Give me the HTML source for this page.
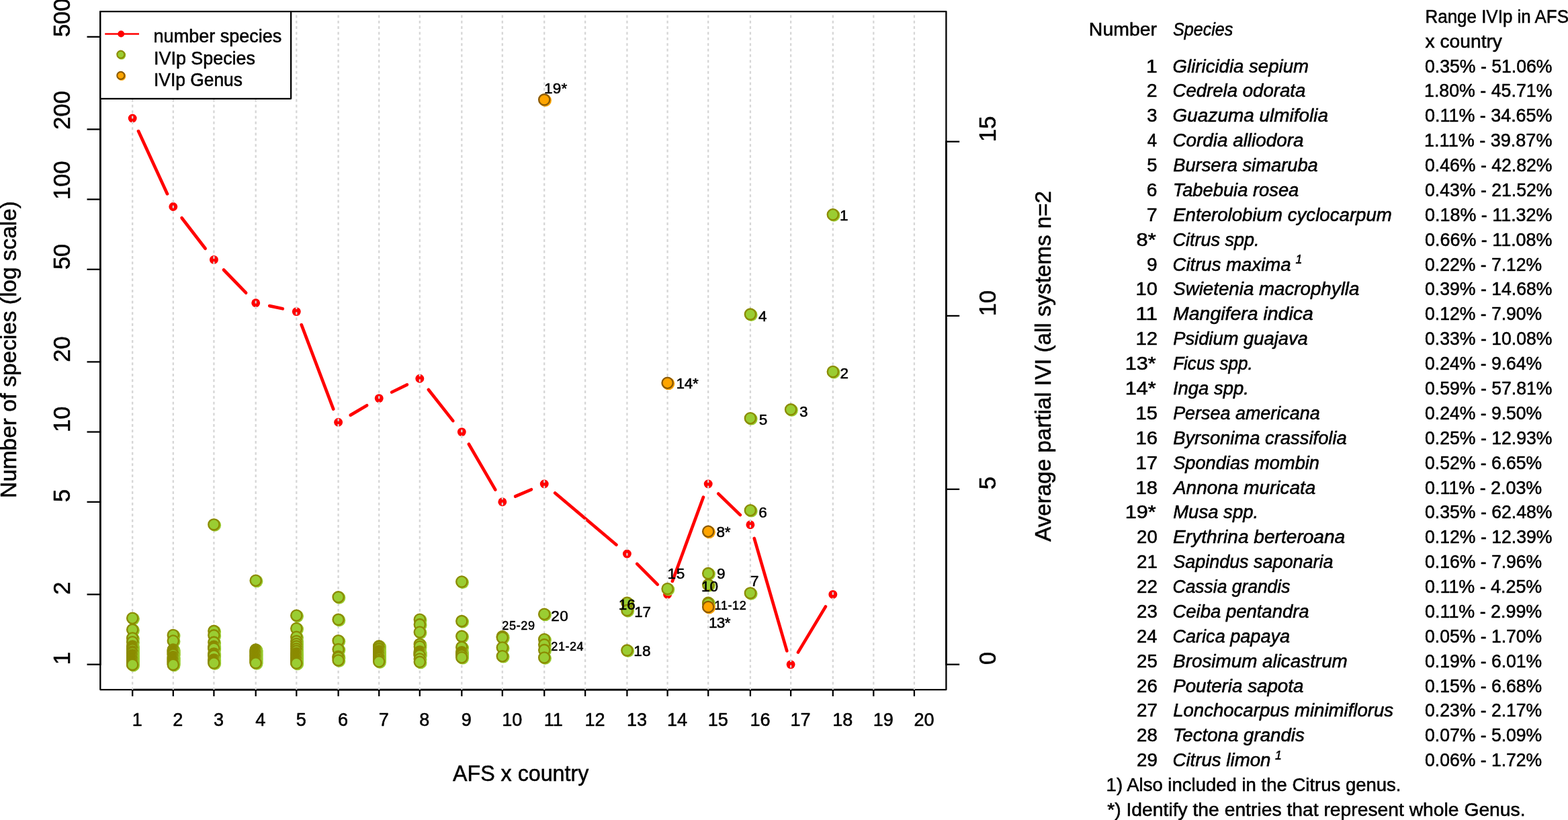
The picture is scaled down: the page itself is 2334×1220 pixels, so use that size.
<!DOCTYPE html>
<html lang="en"><head><meta charset="utf-8"><title>Species IVIp by AFS x country</title>
<style>
html,body{margin:0;padding:0;background:#fff;}
body{width:2334px;height:1220px;overflow:hidden;}
svg{display:block;}
svg text{stroke:#000;stroke-width:0.55px;paint-order:stroke fill;}
</style></head><body>
<svg width="2334" height="1220" viewBox="0 0 2334 1220" font-family="'Liberation Sans', sans-serif" fill="#000" stroke-linejoin="round">
<rect x="0" y="0" width="2334" height="1220" fill="#fff"/>
<g stroke="#000" stroke-width="2.3" fill="none" stroke-linecap="butt">
<rect x="149.3" y="17.1" width="1259.1000000000001" height="1008.9999999999999"/>
</g>
<g stroke="#000" stroke-width="2.6" fill="none" stroke-linecap="butt">
<line x1="196.1" y1="1026.1" x2="1362.0" y2="1026.1"/>
<line x1="149.3" y1="989.7" x2="149.3" y2="53.7"/>
<line x1="1408.4" y1="989.7" x2="1408.4" y2="209.6"/>
</g>
<g stroke="#000" stroke-width="2.3" fill="none" stroke-linecap="butt">
<line x1="197.2" y1="1026.1" x2="197.2" y2="1035.8999999999999"/>
<line x1="257.8" y1="1026.1" x2="257.8" y2="1035.8999999999999"/>
<line x1="318.4" y1="1026.1" x2="318.4" y2="1035.8999999999999"/>
<line x1="380.7" y1="1026.1" x2="380.7" y2="1035.8999999999999"/>
<line x1="441.3" y1="1026.1" x2="441.3" y2="1035.8999999999999"/>
<line x1="503.6" y1="1026.1" x2="503.6" y2="1035.8999999999999"/>
<line x1="564.2" y1="1026.1" x2="564.2" y2="1035.8999999999999"/>
<line x1="624.8" y1="1026.1" x2="624.8" y2="1035.8999999999999"/>
<line x1="687.3" y1="1026.1" x2="687.3" y2="1035.8999999999999"/>
<line x1="747.8" y1="1026.1" x2="747.8" y2="1035.8999999999999"/>
<line x1="810.2" y1="1026.1" x2="810.2" y2="1035.8999999999999"/>
<line x1="871.1" y1="1026.1" x2="871.1" y2="1035.8999999999999"/>
<line x1="933.4" y1="1026.1" x2="933.4" y2="1035.8999999999999"/>
<line x1="993.6" y1="1026.1" x2="993.6" y2="1035.8999999999999"/>
<line x1="1054.2" y1="1026.1" x2="1054.2" y2="1035.8999999999999"/>
<line x1="1116.9" y1="1026.1" x2="1116.9" y2="1035.8999999999999"/>
<line x1="1177.1" y1="1026.1" x2="1177.1" y2="1035.8999999999999"/>
<line x1="1239.8" y1="1026.1" x2="1239.8" y2="1035.8999999999999"/>
<line x1="1300.3" y1="1026.1" x2="1300.3" y2="1035.8999999999999"/>
<line x1="1360.9" y1="1026.1" x2="1360.9" y2="1035.8999999999999"/>
<line x1="149.3" y1="988.6" x2="129.5" y2="988.6"/>
<line x1="149.3" y1="884.4" x2="129.5" y2="884.4"/>
<line x1="149.3" y1="746.8" x2="129.5" y2="746.8"/>
<line x1="149.3" y1="642.6" x2="129.5" y2="642.6"/>
<line x1="149.3" y1="538.4" x2="129.5" y2="538.4"/>
<line x1="149.3" y1="400.8" x2="129.5" y2="400.8"/>
<line x1="149.3" y1="296.6" x2="129.5" y2="296.6"/>
<line x1="149.3" y1="192.4" x2="129.5" y2="192.4"/>
<line x1="149.3" y1="54.8" x2="129.5" y2="54.8"/>
<line x1="1408.4" y1="988.6" x2="1428.2" y2="988.6"/>
<line x1="1408.4" y1="727.9" x2="1428.2" y2="727.9"/>
<line x1="1408.4" y1="469.9" x2="1428.2" y2="469.9"/>
<line x1="1408.4" y1="210.7" x2="1428.2" y2="210.7"/>
</g>
<g stroke="#ff0000" stroke-width="4.7" stroke-linecap="round" fill="none">
<line x1="206.0" y1="195.1" x2="249.0" y2="288.4"/>
<line x1="270.6" y1="324.2" x2="305.6" y2="369.8"/>
<line x1="333.0" y1="401.5" x2="366.1" y2="435.7"/>
<line x1="401.2" y1="455.1" x2="420.8" y2="459.3"/>
<line x1="448.7" y1="483.2" x2="496.2" y2="608.6"/>
<line x1="521.7" y1="617.6" x2="546.1" y2="603.3"/>
<line x1="583.1" y1="583.5" x2="605.9" y2="572.4"/>
<line x1="637.8" y1="579.8" x2="674.3" y2="626.1"/>
<line x1="697.8" y1="660.8" x2="737.3" y2="728.6"/>
<line x1="767.1" y1="738.5" x2="790.9" y2="728.3"/>
<line x1="826.2" y1="733.5" x2="917.4" y2="810.5"/>
<line x1="948.2" y1="838.9" x2="978.8" y2="869.6"/>
<line x1="1000.9" y1="864.7" x2="1046.9" y2="739.7"/>
<line x1="1069.3" y1="734.6" x2="1101.8" y2="766.1"/>
<line x1="1122.7" y1="800.9" x2="1171.3" y2="968.4"/>
<line x1="1187.9" y1="970.6" x2="1229.0" y2="902.4"/>
</g>
<g fill="#ff0000">
<circle cx="197.2" cy="176.0" r="6.45"/>
<circle cx="257.8" cy="307.5" r="6.45"/>
<circle cx="318.4" cy="386.4" r="6.45"/>
<circle cx="380.7" cy="450.8" r="6.45"/>
<circle cx="441.3" cy="463.6" r="6.45"/>
<circle cx="503.6" cy="628.3" r="6.45"/>
<circle cx="564.2" cy="592.6" r="6.45"/>
<circle cx="624.8" cy="563.3" r="6.45"/>
<circle cx="687.3" cy="642.6" r="6.45"/>
<circle cx="747.8" cy="746.8" r="6.45"/>
<circle cx="810.2" cy="720.0" r="6.45"/>
<circle cx="933.4" cy="824.0" r="6.45"/>
<circle cx="993.6" cy="884.4" r="6.45"/>
<circle cx="1054.2" cy="720.0" r="6.45"/>
<circle cx="1116.9" cy="780.7" r="6.45"/>
<circle cx="1177.1" cy="988.6" r="6.45"/>
<circle cx="1239.8" cy="884.4" r="6.45"/>
</g>
<g stroke="#d6d6d6" stroke-width="2.3" stroke-dasharray="4.0 4.336" fill="none">
<line x1="197.2" y1="22.45" x2="197.2" y2="1026.1"/>
<line x1="257.8" y1="22.45" x2="257.8" y2="1026.1"/>
<line x1="318.4" y1="22.45" x2="318.4" y2="1026.1"/>
<line x1="380.7" y1="22.45" x2="380.7" y2="1026.1"/>
<line x1="441.3" y1="22.45" x2="441.3" y2="1026.1"/>
<line x1="503.6" y1="22.45" x2="503.6" y2="1026.1"/>
<line x1="564.2" y1="22.45" x2="564.2" y2="1026.1"/>
<line x1="624.8" y1="22.45" x2="624.8" y2="1026.1"/>
<line x1="687.3" y1="22.45" x2="687.3" y2="1026.1"/>
<line x1="747.8" y1="22.45" x2="747.8" y2="1026.1"/>
<line x1="810.2" y1="22.45" x2="810.2" y2="1026.1"/>
<line x1="871.1" y1="22.45" x2="871.1" y2="1026.1"/>
<line x1="933.4" y1="22.45" x2="933.4" y2="1026.1"/>
<line x1="993.6" y1="22.45" x2="993.6" y2="1026.1"/>
<line x1="1054.2" y1="22.45" x2="1054.2" y2="1026.1"/>
<line x1="1116.9" y1="22.45" x2="1116.9" y2="1026.1"/>
<line x1="1177.1" y1="22.45" x2="1177.1" y2="1026.1"/>
<line x1="1239.8" y1="22.45" x2="1239.8" y2="1026.1"/>
<line x1="1300.3" y1="22.45" x2="1300.3" y2="1026.1"/>
<line x1="1360.9" y1="22.45" x2="1360.9" y2="1026.1"/>
</g>
<circle cx="198.6" cy="920.8" r="9.3" fill="#9acd32"/><circle cx="197.2" cy="919.7" r="8.1" fill="#9acd32" stroke="#8b8b00" stroke-width="2.35"/>
<circle cx="198.6" cy="937.9" r="9.3" fill="#9acd32"/><circle cx="197.2" cy="936.8" r="8.1" fill="#9acd32" stroke="#8b8b00" stroke-width="2.35"/>
<circle cx="198.6" cy="950.5" r="9.3" fill="#9acd32"/><circle cx="197.2" cy="949.4" r="8.1" fill="#9acd32" stroke="#8b8b00" stroke-width="2.35"/>
<circle cx="198.6" cy="956.3" r="9.3" fill="#9acd32"/><circle cx="197.2" cy="955.2" r="8.1" fill="#9acd32" stroke="#8b8b00" stroke-width="2.35"/>
<circle cx="198.6" cy="962.6" r="9.3" fill="#9acd32"/><circle cx="197.2" cy="961.5" r="8.1" fill="#9acd32" stroke="#8b8b00" stroke-width="2.35"/>
<circle cx="198.6" cy="963.9" r="9.3" fill="#9acd32"/><circle cx="197.2" cy="962.8" r="8.1" fill="#9acd32" stroke="#8b8b00" stroke-width="2.35"/>
<circle cx="198.6" cy="965.2" r="9.3" fill="#9acd32"/><circle cx="197.2" cy="964.1" r="8.1" fill="#9acd32" stroke="#8b8b00" stroke-width="2.35"/>
<circle cx="198.6" cy="966.5" r="9.3" fill="#9acd32"/><circle cx="197.2" cy="965.4" r="8.1" fill="#9acd32" stroke="#8b8b00" stroke-width="2.35"/>
<circle cx="198.6" cy="967.6" r="9.3" fill="#9acd32"/><circle cx="197.2" cy="966.5" r="8.1" fill="#9acd32" stroke="#8b8b00" stroke-width="2.35"/>
<circle cx="198.6" cy="970.6" r="9.3" fill="#9acd32"/><circle cx="197.2" cy="969.5" r="8.1" fill="#9acd32" stroke="#8b8b00" stroke-width="2.35"/>
<circle cx="198.6" cy="971.9" r="9.3" fill="#9acd32"/><circle cx="197.2" cy="970.8" r="8.1" fill="#9acd32" stroke="#8b8b00" stroke-width="2.35"/>
<circle cx="198.6" cy="972.6" r="9.3" fill="#9acd32"/><circle cx="197.2" cy="971.5" r="8.1" fill="#9acd32" stroke="#8b8b00" stroke-width="2.35"/>
<circle cx="198.6" cy="975.6" r="9.3" fill="#9acd32"/><circle cx="197.2" cy="974.5" r="8.1" fill="#9acd32" stroke="#8b8b00" stroke-width="2.35"/>
<circle cx="198.6" cy="976.9" r="9.3" fill="#9acd32"/><circle cx="197.2" cy="975.8" r="8.1" fill="#9acd32" stroke="#8b8b00" stroke-width="2.35"/>
<circle cx="198.6" cy="978.2" r="9.3" fill="#9acd32"/><circle cx="197.2" cy="977.1" r="8.1" fill="#9acd32" stroke="#8b8b00" stroke-width="2.35"/>
<circle cx="198.6" cy="979.5" r="9.3" fill="#9acd32"/><circle cx="197.2" cy="978.4" r="8.1" fill="#9acd32" stroke="#8b8b00" stroke-width="2.35"/>
<circle cx="198.6" cy="980.8" r="9.3" fill="#9acd32"/><circle cx="197.2" cy="979.7" r="8.1" fill="#9acd32" stroke="#8b8b00" stroke-width="2.35"/>
<circle cx="198.6" cy="982.1" r="9.3" fill="#9acd32"/><circle cx="197.2" cy="981.0" r="8.1" fill="#9acd32" stroke="#8b8b00" stroke-width="2.35"/>
<circle cx="198.6" cy="983.4" r="9.3" fill="#9acd32"/><circle cx="197.2" cy="982.3" r="8.1" fill="#9acd32" stroke="#8b8b00" stroke-width="2.35"/>
<circle cx="198.6" cy="984.7" r="9.3" fill="#9acd32"/><circle cx="197.2" cy="983.6" r="8.1" fill="#9acd32" stroke="#8b8b00" stroke-width="2.35"/>
<circle cx="198.6" cy="986.0" r="9.3" fill="#9acd32"/><circle cx="197.2" cy="984.9" r="8.1" fill="#9acd32" stroke="#8b8b00" stroke-width="2.35"/>
<circle cx="198.6" cy="987.3" r="9.3" fill="#9acd32"/><circle cx="197.2" cy="986.2" r="8.1" fill="#9acd32" stroke="#8b8b00" stroke-width="2.35"/>
<circle cx="198.6" cy="988.6" r="9.3" fill="#9acd32"/><circle cx="197.2" cy="987.5" r="8.1" fill="#9acd32" stroke="#8b8b00" stroke-width="2.35"/>
<circle cx="198.6" cy="989.9" r="9.3" fill="#9acd32"/><circle cx="197.2" cy="988.8" r="8.1" fill="#9acd32" stroke="#8b8b00" stroke-width="2.35"/>
<circle cx="198.6" cy="990.0" r="9.3" fill="#9acd32"/><circle cx="197.2" cy="988.9" r="8.1" fill="#9acd32" stroke="#8b8b00" stroke-width="2.35"/>
<circle cx="259.2" cy="946.0" r="9.3" fill="#9acd32"/><circle cx="257.8" cy="944.9" r="8.1" fill="#9acd32" stroke="#8b8b00" stroke-width="2.35"/>
<circle cx="259.2" cy="954.6" r="9.3" fill="#9acd32"/><circle cx="257.8" cy="953.5" r="8.1" fill="#9acd32" stroke="#8b8b00" stroke-width="2.35"/>
<circle cx="259.2" cy="967.7" r="9.3" fill="#9acd32"/><circle cx="257.8" cy="966.6" r="8.1" fill="#9acd32" stroke="#8b8b00" stroke-width="2.35"/>
<circle cx="259.2" cy="969.0" r="9.3" fill="#9acd32"/><circle cx="257.8" cy="967.9" r="8.1" fill="#9acd32" stroke="#8b8b00" stroke-width="2.35"/>
<circle cx="259.2" cy="970.3" r="9.3" fill="#9acd32"/><circle cx="257.8" cy="969.2" r="8.1" fill="#9acd32" stroke="#8b8b00" stroke-width="2.35"/>
<circle cx="259.2" cy="971.6" r="9.3" fill="#9acd32"/><circle cx="257.8" cy="970.5" r="8.1" fill="#9acd32" stroke="#8b8b00" stroke-width="2.35"/>
<circle cx="259.2" cy="972.9" r="9.3" fill="#9acd32"/><circle cx="257.8" cy="971.8" r="8.1" fill="#9acd32" stroke="#8b8b00" stroke-width="2.35"/>
<circle cx="259.2" cy="974.2" r="9.3" fill="#9acd32"/><circle cx="257.8" cy="973.1" r="8.1" fill="#9acd32" stroke="#8b8b00" stroke-width="2.35"/>
<circle cx="259.2" cy="975.1" r="9.3" fill="#9acd32"/><circle cx="257.8" cy="974.0" r="8.1" fill="#9acd32" stroke="#8b8b00" stroke-width="2.35"/>
<circle cx="259.2" cy="978.4" r="9.3" fill="#9acd32"/><circle cx="257.8" cy="977.3" r="8.1" fill="#9acd32" stroke="#8b8b00" stroke-width="2.35"/>
<circle cx="259.2" cy="979.7" r="9.3" fill="#9acd32"/><circle cx="257.8" cy="978.6" r="8.1" fill="#9acd32" stroke="#8b8b00" stroke-width="2.35"/>
<circle cx="259.2" cy="981.0" r="9.3" fill="#9acd32"/><circle cx="257.8" cy="979.9" r="8.1" fill="#9acd32" stroke="#8b8b00" stroke-width="2.35"/>
<circle cx="259.2" cy="982.3" r="9.3" fill="#9acd32"/><circle cx="257.8" cy="981.2" r="8.1" fill="#9acd32" stroke="#8b8b00" stroke-width="2.35"/>
<circle cx="259.2" cy="983.6" r="9.3" fill="#9acd32"/><circle cx="257.8" cy="982.5" r="8.1" fill="#9acd32" stroke="#8b8b00" stroke-width="2.35"/>
<circle cx="259.2" cy="984.9" r="9.3" fill="#9acd32"/><circle cx="257.8" cy="983.8" r="8.1" fill="#9acd32" stroke="#8b8b00" stroke-width="2.35"/>
<circle cx="259.2" cy="986.2" r="9.3" fill="#9acd32"/><circle cx="257.8" cy="985.1" r="8.1" fill="#9acd32" stroke="#8b8b00" stroke-width="2.35"/>
<circle cx="259.2" cy="987.5" r="9.3" fill="#9acd32"/><circle cx="257.8" cy="986.4" r="8.1" fill="#9acd32" stroke="#8b8b00" stroke-width="2.35"/>
<circle cx="259.2" cy="988.8" r="9.3" fill="#9acd32"/><circle cx="257.8" cy="987.7" r="8.1" fill="#9acd32" stroke="#8b8b00" stroke-width="2.35"/>
<circle cx="259.2" cy="990.0" r="9.3" fill="#9acd32"/><circle cx="257.8" cy="988.9" r="8.1" fill="#9acd32" stroke="#8b8b00" stroke-width="2.35"/>
<circle cx="319.8" cy="781.5" r="9.3" fill="#9acd32"/><circle cx="318.4" cy="780.4" r="8.1" fill="#9acd32" stroke="#8b8b00" stroke-width="2.35"/>
<circle cx="319.8" cy="939.9" r="9.3" fill="#9acd32"/><circle cx="318.4" cy="938.8" r="8.1" fill="#9acd32" stroke="#8b8b00" stroke-width="2.35"/>
<circle cx="319.8" cy="946.4" r="9.3" fill="#9acd32"/><circle cx="318.4" cy="945.3" r="8.1" fill="#9acd32" stroke="#8b8b00" stroke-width="2.35"/>
<circle cx="319.8" cy="956.7" r="9.3" fill="#9acd32"/><circle cx="318.4" cy="955.6" r="8.1" fill="#9acd32" stroke="#8b8b00" stroke-width="2.35"/>
<circle cx="319.8" cy="962.8" r="9.3" fill="#9acd32"/><circle cx="318.4" cy="961.7" r="8.1" fill="#9acd32" stroke="#8b8b00" stroke-width="2.35"/>
<circle cx="319.8" cy="964.1" r="9.3" fill="#9acd32"/><circle cx="318.4" cy="963.0" r="8.1" fill="#9acd32" stroke="#8b8b00" stroke-width="2.35"/>
<circle cx="319.8" cy="965.4" r="9.3" fill="#9acd32"/><circle cx="318.4" cy="964.3" r="8.1" fill="#9acd32" stroke="#8b8b00" stroke-width="2.35"/>
<circle cx="319.8" cy="966.1" r="9.3" fill="#9acd32"/><circle cx="318.4" cy="965.0" r="8.1" fill="#9acd32" stroke="#8b8b00" stroke-width="2.35"/>
<circle cx="319.8" cy="973.5" r="9.3" fill="#9acd32"/><circle cx="318.4" cy="972.4" r="8.1" fill="#9acd32" stroke="#8b8b00" stroke-width="2.35"/>
<circle cx="319.8" cy="974.8" r="9.3" fill="#9acd32"/><circle cx="318.4" cy="973.7" r="8.1" fill="#9acd32" stroke="#8b8b00" stroke-width="2.35"/>
<circle cx="319.8" cy="976.1" r="9.3" fill="#9acd32"/><circle cx="318.4" cy="975.0" r="8.1" fill="#9acd32" stroke="#8b8b00" stroke-width="2.35"/>
<circle cx="319.8" cy="976.7" r="9.3" fill="#9acd32"/><circle cx="318.4" cy="975.6" r="8.1" fill="#9acd32" stroke="#8b8b00" stroke-width="2.35"/>
<circle cx="319.8" cy="982.5" r="9.3" fill="#9acd32"/><circle cx="318.4" cy="981.4" r="8.1" fill="#9acd32" stroke="#8b8b00" stroke-width="2.35"/>
<circle cx="319.8" cy="983.8" r="9.3" fill="#9acd32"/><circle cx="318.4" cy="982.7" r="8.1" fill="#9acd32" stroke="#8b8b00" stroke-width="2.35"/>
<circle cx="319.8" cy="985.1" r="9.3" fill="#9acd32"/><circle cx="318.4" cy="984.0" r="8.1" fill="#9acd32" stroke="#8b8b00" stroke-width="2.35"/>
<circle cx="319.8" cy="986.4" r="9.3" fill="#9acd32"/><circle cx="318.4" cy="985.3" r="8.1" fill="#9acd32" stroke="#8b8b00" stroke-width="2.35"/>
<circle cx="319.8" cy="987.6" r="9.3" fill="#9acd32"/><circle cx="318.4" cy="986.5" r="8.1" fill="#9acd32" stroke="#8b8b00" stroke-width="2.35"/>
<circle cx="382.1" cy="864.8" r="9.3" fill="#9acd32"/><circle cx="380.7" cy="863.7" r="8.1" fill="#9acd32" stroke="#8b8b00" stroke-width="2.35"/>
<circle cx="382.1" cy="967.6" r="9.3" fill="#9acd32"/><circle cx="380.7" cy="966.5" r="8.1" fill="#9acd32" stroke="#8b8b00" stroke-width="2.35"/>
<circle cx="382.1" cy="968.8" r="9.3" fill="#9acd32"/><circle cx="380.7" cy="967.7" r="8.1" fill="#9acd32" stroke="#8b8b00" stroke-width="2.35"/>
<circle cx="382.1" cy="970.0" r="9.3" fill="#9acd32"/><circle cx="380.7" cy="968.9" r="8.1" fill="#9acd32" stroke="#8b8b00" stroke-width="2.35"/>
<circle cx="382.1" cy="971.2" r="9.3" fill="#9acd32"/><circle cx="380.7" cy="970.1" r="8.1" fill="#9acd32" stroke="#8b8b00" stroke-width="2.35"/>
<circle cx="382.1" cy="972.4" r="9.3" fill="#9acd32"/><circle cx="380.7" cy="971.3" r="8.1" fill="#9acd32" stroke="#8b8b00" stroke-width="2.35"/>
<circle cx="382.1" cy="973.6" r="9.3" fill="#9acd32"/><circle cx="380.7" cy="972.5" r="8.1" fill="#9acd32" stroke="#8b8b00" stroke-width="2.35"/>
<circle cx="382.1" cy="974.8" r="9.3" fill="#9acd32"/><circle cx="380.7" cy="973.7" r="8.1" fill="#9acd32" stroke="#8b8b00" stroke-width="2.35"/>
<circle cx="382.1" cy="976.0" r="9.3" fill="#9acd32"/><circle cx="380.7" cy="974.9" r="8.1" fill="#9acd32" stroke="#8b8b00" stroke-width="2.35"/>
<circle cx="382.1" cy="977.2" r="9.3" fill="#9acd32"/><circle cx="380.7" cy="976.1" r="8.1" fill="#9acd32" stroke="#8b8b00" stroke-width="2.35"/>
<circle cx="382.1" cy="978.4" r="9.3" fill="#9acd32"/><circle cx="380.7" cy="977.3" r="8.1" fill="#9acd32" stroke="#8b8b00" stroke-width="2.35"/>
<circle cx="382.1" cy="979.6" r="9.3" fill="#9acd32"/><circle cx="380.7" cy="978.5" r="8.1" fill="#9acd32" stroke="#8b8b00" stroke-width="2.35"/>
<circle cx="382.1" cy="980.8" r="9.3" fill="#9acd32"/><circle cx="380.7" cy="979.7" r="8.1" fill="#9acd32" stroke="#8b8b00" stroke-width="2.35"/>
<circle cx="382.1" cy="982.0" r="9.3" fill="#9acd32"/><circle cx="380.7" cy="980.9" r="8.1" fill="#9acd32" stroke="#8b8b00" stroke-width="2.35"/>
<circle cx="382.1" cy="983.2" r="9.3" fill="#9acd32"/><circle cx="380.7" cy="982.1" r="8.1" fill="#9acd32" stroke="#8b8b00" stroke-width="2.35"/>
<circle cx="382.1" cy="984.4" r="9.3" fill="#9acd32"/><circle cx="380.7" cy="983.3" r="8.1" fill="#9acd32" stroke="#8b8b00" stroke-width="2.35"/>
<circle cx="382.1" cy="985.6" r="9.3" fill="#9acd32"/><circle cx="380.7" cy="984.5" r="8.1" fill="#9acd32" stroke="#8b8b00" stroke-width="2.35"/>
<circle cx="382.1" cy="986.8" r="9.3" fill="#9acd32"/><circle cx="380.7" cy="985.7" r="8.1" fill="#9acd32" stroke="#8b8b00" stroke-width="2.35"/>
<circle cx="382.1" cy="987.4" r="9.3" fill="#9acd32"/><circle cx="380.7" cy="986.3" r="8.1" fill="#9acd32" stroke="#8b8b00" stroke-width="2.35"/>
<circle cx="442.7" cy="916.8" r="9.3" fill="#9acd32"/><circle cx="441.3" cy="915.7" r="8.1" fill="#9acd32" stroke="#8b8b00" stroke-width="2.35"/>
<circle cx="442.7" cy="936.1" r="9.3" fill="#9acd32"/><circle cx="441.3" cy="935.0" r="8.1" fill="#9acd32" stroke="#8b8b00" stroke-width="2.35"/>
<circle cx="442.7" cy="948.8" r="9.3" fill="#9acd32"/><circle cx="441.3" cy="947.7" r="8.1" fill="#9acd32" stroke="#8b8b00" stroke-width="2.35"/>
<circle cx="442.7" cy="955.0" r="9.3" fill="#9acd32"/><circle cx="441.3" cy="953.9" r="8.1" fill="#9acd32" stroke="#8b8b00" stroke-width="2.35"/>
<circle cx="442.7" cy="959.1" r="9.3" fill="#9acd32"/><circle cx="441.3" cy="958.0" r="8.1" fill="#9acd32" stroke="#8b8b00" stroke-width="2.35"/>
<circle cx="442.7" cy="962.7" r="9.3" fill="#9acd32"/><circle cx="441.3" cy="961.6" r="8.1" fill="#9acd32" stroke="#8b8b00" stroke-width="2.35"/>
<circle cx="442.7" cy="966.4" r="9.3" fill="#9acd32"/><circle cx="441.3" cy="965.3" r="8.1" fill="#9acd32" stroke="#8b8b00" stroke-width="2.35"/>
<circle cx="442.7" cy="969.7" r="9.3" fill="#9acd32"/><circle cx="441.3" cy="968.6" r="8.1" fill="#9acd32" stroke="#8b8b00" stroke-width="2.35"/>
<circle cx="442.7" cy="973.0" r="9.3" fill="#9acd32"/><circle cx="441.3" cy="971.9" r="8.1" fill="#9acd32" stroke="#8b8b00" stroke-width="2.35"/>
<circle cx="442.7" cy="974.3" r="9.3" fill="#9acd32"/><circle cx="441.3" cy="973.2" r="8.1" fill="#9acd32" stroke="#8b8b00" stroke-width="2.35"/>
<circle cx="442.7" cy="975.6" r="9.3" fill="#9acd32"/><circle cx="441.3" cy="974.5" r="8.1" fill="#9acd32" stroke="#8b8b00" stroke-width="2.35"/>
<circle cx="442.7" cy="976.9" r="9.3" fill="#9acd32"/><circle cx="441.3" cy="975.8" r="8.1" fill="#9acd32" stroke="#8b8b00" stroke-width="2.35"/>
<circle cx="442.7" cy="978.2" r="9.3" fill="#9acd32"/><circle cx="441.3" cy="977.1" r="8.1" fill="#9acd32" stroke="#8b8b00" stroke-width="2.35"/>
<circle cx="442.7" cy="979.5" r="9.3" fill="#9acd32"/><circle cx="441.3" cy="978.4" r="8.1" fill="#9acd32" stroke="#8b8b00" stroke-width="2.35"/>
<circle cx="442.7" cy="980.8" r="9.3" fill="#9acd32"/><circle cx="441.3" cy="979.7" r="8.1" fill="#9acd32" stroke="#8b8b00" stroke-width="2.35"/>
<circle cx="442.7" cy="982.1" r="9.3" fill="#9acd32"/><circle cx="441.3" cy="981.0" r="8.1" fill="#9acd32" stroke="#8b8b00" stroke-width="2.35"/>
<circle cx="442.7" cy="983.4" r="9.3" fill="#9acd32"/><circle cx="441.3" cy="982.3" r="8.1" fill="#9acd32" stroke="#8b8b00" stroke-width="2.35"/>
<circle cx="442.7" cy="984.7" r="9.3" fill="#9acd32"/><circle cx="441.3" cy="983.6" r="8.1" fill="#9acd32" stroke="#8b8b00" stroke-width="2.35"/>
<circle cx="442.7" cy="986.0" r="9.3" fill="#9acd32"/><circle cx="441.3" cy="984.9" r="8.1" fill="#9acd32" stroke="#8b8b00" stroke-width="2.35"/>
<circle cx="442.7" cy="987.3" r="9.3" fill="#9acd32"/><circle cx="441.3" cy="986.2" r="8.1" fill="#9acd32" stroke="#8b8b00" stroke-width="2.35"/>
<circle cx="442.7" cy="987.9" r="9.3" fill="#9acd32"/><circle cx="441.3" cy="986.8" r="8.1" fill="#9acd32" stroke="#8b8b00" stroke-width="2.35"/>
<circle cx="505.0" cy="889.4" r="9.3" fill="#9acd32"/><circle cx="503.6" cy="888.3" r="8.1" fill="#9acd32" stroke="#8b8b00" stroke-width="2.35"/>
<circle cx="505.0" cy="922.9" r="9.3" fill="#9acd32"/><circle cx="503.6" cy="921.8" r="8.1" fill="#9acd32" stroke="#8b8b00" stroke-width="2.35"/>
<circle cx="505.0" cy="954.3" r="9.3" fill="#9acd32"/><circle cx="503.6" cy="953.2" r="8.1" fill="#9acd32" stroke="#8b8b00" stroke-width="2.35"/>
<circle cx="505.0" cy="967.2" r="9.3" fill="#9acd32"/><circle cx="503.6" cy="966.1" r="8.1" fill="#9acd32" stroke="#8b8b00" stroke-width="2.35"/>
<circle cx="505.0" cy="977.9" r="9.3" fill="#9acd32"/><circle cx="503.6" cy="976.8" r="8.1" fill="#9acd32" stroke="#8b8b00" stroke-width="2.35"/>
<circle cx="505.0" cy="979.5" r="9.3" fill="#9acd32"/><circle cx="503.6" cy="978.4" r="8.1" fill="#9acd32" stroke="#8b8b00" stroke-width="2.35"/>
<circle cx="505.0" cy="983.5" r="9.3" fill="#9acd32"/><circle cx="503.6" cy="982.4" r="8.1" fill="#9acd32" stroke="#8b8b00" stroke-width="2.35"/>
<circle cx="565.6" cy="962.3" r="9.3" fill="#9acd32"/><circle cx="564.2" cy="961.2" r="8.1" fill="#9acd32" stroke="#8b8b00" stroke-width="2.35"/>
<circle cx="565.6" cy="963.4" r="9.3" fill="#9acd32"/><circle cx="564.2" cy="962.3" r="8.1" fill="#9acd32" stroke="#8b8b00" stroke-width="2.35"/>
<circle cx="565.6" cy="966.4" r="9.3" fill="#9acd32"/><circle cx="564.2" cy="965.3" r="8.1" fill="#9acd32" stroke="#8b8b00" stroke-width="2.35"/>
<circle cx="565.6" cy="969.7" r="9.3" fill="#9acd32"/><circle cx="564.2" cy="968.6" r="8.1" fill="#9acd32" stroke="#8b8b00" stroke-width="2.35"/>
<circle cx="565.6" cy="971.0" r="9.3" fill="#9acd32"/><circle cx="564.2" cy="969.9" r="8.1" fill="#9acd32" stroke="#8b8b00" stroke-width="2.35"/>
<circle cx="565.6" cy="972.3" r="9.3" fill="#9acd32"/><circle cx="564.2" cy="971.2" r="8.1" fill="#9acd32" stroke="#8b8b00" stroke-width="2.35"/>
<circle cx="565.6" cy="973.6" r="9.3" fill="#9acd32"/><circle cx="564.2" cy="972.5" r="8.1" fill="#9acd32" stroke="#8b8b00" stroke-width="2.35"/>
<circle cx="565.6" cy="974.9" r="9.3" fill="#9acd32"/><circle cx="564.2" cy="973.8" r="8.1" fill="#9acd32" stroke="#8b8b00" stroke-width="2.35"/>
<circle cx="565.6" cy="976.2" r="9.3" fill="#9acd32"/><circle cx="564.2" cy="975.1" r="8.1" fill="#9acd32" stroke="#8b8b00" stroke-width="2.35"/>
<circle cx="565.6" cy="977.5" r="9.3" fill="#9acd32"/><circle cx="564.2" cy="976.4" r="8.1" fill="#9acd32" stroke="#8b8b00" stroke-width="2.35"/>
<circle cx="565.6" cy="978.8" r="9.3" fill="#9acd32"/><circle cx="564.2" cy="977.7" r="8.1" fill="#9acd32" stroke="#8b8b00" stroke-width="2.35"/>
<circle cx="565.6" cy="980.1" r="9.3" fill="#9acd32"/><circle cx="564.2" cy="979.0" r="8.1" fill="#9acd32" stroke="#8b8b00" stroke-width="2.35"/>
<circle cx="565.6" cy="980.6" r="9.3" fill="#9acd32"/><circle cx="564.2" cy="979.5" r="8.1" fill="#9acd32" stroke="#8b8b00" stroke-width="2.35"/>
<circle cx="565.6" cy="983.0" r="9.3" fill="#9acd32"/><circle cx="564.2" cy="981.9" r="8.1" fill="#9acd32" stroke="#8b8b00" stroke-width="2.35"/>
<circle cx="565.6" cy="985.4" r="9.3" fill="#9acd32"/><circle cx="564.2" cy="984.3" r="8.1" fill="#9acd32" stroke="#8b8b00" stroke-width="2.35"/>
<circle cx="626.2" cy="922.8" r="9.3" fill="#9acd32"/><circle cx="624.8" cy="921.7" r="8.1" fill="#9acd32" stroke="#8b8b00" stroke-width="2.35"/>
<circle cx="626.2" cy="930.2" r="9.3" fill="#9acd32"/><circle cx="624.8" cy="929.1" r="8.1" fill="#9acd32" stroke="#8b8b00" stroke-width="2.35"/>
<circle cx="626.2" cy="941.6" r="9.3" fill="#9acd32"/><circle cx="624.8" cy="940.5" r="8.1" fill="#9acd32" stroke="#8b8b00" stroke-width="2.35"/>
<circle cx="626.2" cy="959.5" r="9.3" fill="#9acd32"/><circle cx="624.8" cy="958.4" r="8.1" fill="#9acd32" stroke="#8b8b00" stroke-width="2.35"/>
<circle cx="626.2" cy="963.1" r="9.3" fill="#9acd32"/><circle cx="624.8" cy="962.0" r="8.1" fill="#9acd32" stroke="#8b8b00" stroke-width="2.35"/>
<circle cx="626.2" cy="970.5" r="9.3" fill="#9acd32"/><circle cx="624.8" cy="969.4" r="8.1" fill="#9acd32" stroke="#8b8b00" stroke-width="2.35"/>
<circle cx="626.2" cy="971.8" r="9.3" fill="#9acd32"/><circle cx="624.8" cy="970.7" r="8.1" fill="#9acd32" stroke="#8b8b00" stroke-width="2.35"/>
<circle cx="626.2" cy="973.1" r="9.3" fill="#9acd32"/><circle cx="624.8" cy="972.0" r="8.1" fill="#9acd32" stroke="#8b8b00" stroke-width="2.35"/>
<circle cx="626.2" cy="974.4" r="9.3" fill="#9acd32"/><circle cx="624.8" cy="973.3" r="8.1" fill="#9acd32" stroke="#8b8b00" stroke-width="2.35"/>
<circle cx="626.2" cy="975.7" r="9.3" fill="#9acd32"/><circle cx="624.8" cy="974.6" r="8.1" fill="#9acd32" stroke="#8b8b00" stroke-width="2.35"/>
<circle cx="626.2" cy="976.3" r="9.3" fill="#9acd32"/><circle cx="624.8" cy="975.2" r="8.1" fill="#9acd32" stroke="#8b8b00" stroke-width="2.35"/>
<circle cx="626.2" cy="981.6" r="9.3" fill="#9acd32"/><circle cx="624.8" cy="980.5" r="8.1" fill="#9acd32" stroke="#8b8b00" stroke-width="2.35"/>
<circle cx="626.2" cy="985.9" r="9.3" fill="#9acd32"/><circle cx="624.8" cy="984.8" r="8.1" fill="#9acd32" stroke="#8b8b00" stroke-width="2.35"/>
<circle cx="688.7" cy="866.6" r="9.3" fill="#9acd32"/><circle cx="687.3" cy="865.5" r="8.1" fill="#9acd32" stroke="#8b8b00" stroke-width="2.35"/>
<circle cx="688.7" cy="925.2" r="9.3" fill="#9acd32"/><circle cx="687.3" cy="924.1" r="8.1" fill="#9acd32" stroke="#8b8b00" stroke-width="2.35"/>
<circle cx="688.7" cy="947.7" r="9.3" fill="#9acd32"/><circle cx="687.3" cy="946.6" r="8.1" fill="#9acd32" stroke="#8b8b00" stroke-width="2.35"/>
<circle cx="688.7" cy="964.0" r="9.3" fill="#9acd32"/><circle cx="687.3" cy="962.9" r="8.1" fill="#9acd32" stroke="#8b8b00" stroke-width="2.35"/>
<circle cx="688.7" cy="971.3" r="9.3" fill="#9acd32"/><circle cx="687.3" cy="970.2" r="8.1" fill="#9acd32" stroke="#8b8b00" stroke-width="2.35"/>
<circle cx="688.7" cy="973.0" r="9.3" fill="#9acd32"/><circle cx="687.3" cy="971.9" r="8.1" fill="#9acd32" stroke="#8b8b00" stroke-width="2.35"/>
<circle cx="688.7" cy="974.6" r="9.3" fill="#9acd32"/><circle cx="687.3" cy="973.5" r="8.1" fill="#9acd32" stroke="#8b8b00" stroke-width="2.35"/>
<circle cx="688.7" cy="976.3" r="9.3" fill="#9acd32"/><circle cx="687.3" cy="975.2" r="8.1" fill="#9acd32" stroke="#8b8b00" stroke-width="2.35"/>
<circle cx="688.7" cy="979.3" r="9.3" fill="#9acd32"/><circle cx="687.3" cy="978.2" r="8.1" fill="#9acd32" stroke="#8b8b00" stroke-width="2.35"/>
<circle cx="749.2" cy="948.2" r="9.3" fill="#9acd32"/><circle cx="747.8" cy="947.1" r="8.1" fill="#9acd32" stroke="#8b8b00" stroke-width="2.35"/>
<circle cx="749.2" cy="949.7" r="9.3" fill="#9acd32"/><circle cx="747.8" cy="948.6" r="8.1" fill="#9acd32" stroke="#8b8b00" stroke-width="2.35"/>
<circle cx="749.2" cy="964.6" r="9.3" fill="#9acd32"/><circle cx="747.8" cy="963.5" r="8.1" fill="#9acd32" stroke="#8b8b00" stroke-width="2.35"/>
<circle cx="749.2" cy="977.3" r="9.3" fill="#9acd32"/><circle cx="747.8" cy="976.2" r="8.1" fill="#9acd32" stroke="#8b8b00" stroke-width="2.35"/>
<circle cx="811.6" cy="914.8" r="9.3" fill="#9acd32"/><circle cx="810.2" cy="913.7" r="8.1" fill="#9acd32" stroke="#8b8b00" stroke-width="2.35"/>
<circle cx="811.6" cy="952.3" r="9.3" fill="#9acd32"/><circle cx="810.2" cy="951.2" r="8.1" fill="#9acd32" stroke="#8b8b00" stroke-width="2.35"/>
<circle cx="811.6" cy="960.2" r="9.3" fill="#9acd32"/><circle cx="810.2" cy="959.1" r="8.1" fill="#9acd32" stroke="#8b8b00" stroke-width="2.35"/>
<circle cx="811.6" cy="968.2" r="9.3" fill="#9acd32"/><circle cx="810.2" cy="967.1" r="8.1" fill="#9acd32" stroke="#8b8b00" stroke-width="2.35"/>
<circle cx="811.6" cy="979.5" r="9.3" fill="#9acd32"/><circle cx="810.2" cy="978.4" r="8.1" fill="#9acd32" stroke="#8b8b00" stroke-width="2.35"/>
<circle cx="934.8" cy="897.9" r="9.3" fill="#9acd32"/><circle cx="933.4" cy="896.8" r="8.1" fill="#9acd32" stroke="#8b8b00" stroke-width="2.35"/>
<circle cx="934.8" cy="909.2" r="9.3" fill="#9acd32"/><circle cx="933.4" cy="908.1" r="8.1" fill="#9acd32" stroke="#8b8b00" stroke-width="2.35"/>
<circle cx="934.8" cy="968.7" r="9.3" fill="#9acd32"/><circle cx="933.4" cy="967.6" r="8.1" fill="#9acd32" stroke="#8b8b00" stroke-width="2.35"/>
<circle cx="1055.6" cy="854.2" r="9.3" fill="#9acd32"/><circle cx="1054.2" cy="853.1" r="8.1" fill="#9acd32" stroke="#8b8b00" stroke-width="2.35"/>
<circle cx="1055.6" cy="871.2" r="9.3" fill="#9acd32"/><circle cx="1054.2" cy="870.1" r="8.1" fill="#9acd32" stroke="#8b8b00" stroke-width="2.35"/>
<circle cx="1055.6" cy="897.9" r="9.3" fill="#9acd32"/><circle cx="1054.2" cy="896.8" r="8.1" fill="#9acd32" stroke="#8b8b00" stroke-width="2.35"/>
<circle cx="1055.6" cy="899.0" r="9.3" fill="#9acd32"/><circle cx="1054.2" cy="897.9" r="8.1" fill="#9acd32" stroke="#8b8b00" stroke-width="2.35"/>
<circle cx="1055.6" cy="904.1" r="9.3" fill="#ffa500"/><circle cx="1054.2" cy="903.0" r="8.1" fill="#ffa500" stroke="#8b5a00" stroke-width="2.35"/>
<circle cx="1055.6" cy="791.8" r="9.3" fill="#ffa500"/><circle cx="1054.2" cy="790.7" r="8.1" fill="#ffa500" stroke="#8b5a00" stroke-width="2.35"/>
<circle cx="1118.3" cy="883.5" r="9.3" fill="#9acd32"/><circle cx="1116.9" cy="882.4" r="8.1" fill="#9acd32" stroke="#8b8b00" stroke-width="2.35"/>
<circle cx="1118.3" cy="760.3" r="9.3" fill="#9acd32"/><circle cx="1116.9" cy="759.2" r="8.1" fill="#9acd32" stroke="#8b8b00" stroke-width="2.35"/>
<circle cx="1118.3" cy="623.3" r="9.3" fill="#9acd32"/><circle cx="1116.9" cy="622.2" r="8.1" fill="#9acd32" stroke="#8b8b00" stroke-width="2.35"/>
<circle cx="1118.3" cy="468.7" r="9.3" fill="#9acd32"/><circle cx="1116.9" cy="467.6" r="8.1" fill="#9acd32" stroke="#8b8b00" stroke-width="2.35"/>
<circle cx="1178.5" cy="610.4" r="9.3" fill="#9acd32"/><circle cx="1177.1" cy="609.3" r="8.1" fill="#9acd32" stroke="#8b8b00" stroke-width="2.35"/>
<circle cx="1241.2" cy="554.1" r="9.3" fill="#9acd32"/><circle cx="1239.8" cy="553.0" r="8.1" fill="#9acd32" stroke="#8b8b00" stroke-width="2.35"/>
<circle cx="1241.2" cy="320.4" r="9.3" fill="#9acd32"/><circle cx="1239.8" cy="319.3" r="8.1" fill="#9acd32" stroke="#8b8b00" stroke-width="2.35"/>
<circle cx="995.0" cy="877.1" r="9.3" fill="#9acd32"/><circle cx="993.6" cy="876.0" r="8.1" fill="#9acd32" stroke="#8b8b00" stroke-width="2.35"/>
<circle cx="995.0" cy="570.8" r="9.3" fill="#ffa500"/><circle cx="993.6" cy="569.7" r="8.1" fill="#ffa500" stroke="#8b5a00" stroke-width="2.35"/>
<circle cx="811.6" cy="149.4" r="9.3" fill="#ffa500"/><circle cx="810.2" cy="148.3" r="8.1" fill="#ffa500" stroke="#8b5a00" stroke-width="2.35"/>
<rect x="149.3" y="17.1" width="283.8" height="129.70000000000002" fill="#fff" stroke="#000" stroke-width="2.3"/>
<line x1="156.2" y1="50.5" x2="207.0" y2="50.5" stroke="#f00" stroke-width="2.6" stroke-linecap="butt"/>
<circle cx="180.2" cy="50.5" r="4.9" fill="#f00"/>
<circle cx="180.9" cy="82.1" r="6.4" fill="#9acd32"/><circle cx="179.8" cy="81.1" r="5.5" fill="#9acd32" stroke="#8b8b00" stroke-width="2.1"/>
<circle cx="180.9" cy="113.4" r="6.4" fill="#ffa500"/><circle cx="179.8" cy="112.4" r="5.5" fill="#ffa500" stroke="#8b5a00" stroke-width="2.1"/>
<text x="228.6" y="62.7" font-size="27" text-anchor="start" textLength="190.8" lengthAdjust="spacingAndGlyphs">number species</text>
<text x="229.0" y="96.4" font-size="27" text-anchor="start" textLength="151.0" lengthAdjust="spacingAndGlyphs">IVIp Species</text>
<text x="229.0" y="127.6" font-size="27" text-anchor="start" textLength="132.0" lengthAdjust="spacingAndGlyphs">IVIp Genus</text>
<text x="196.7" y="1080.1" font-size="27" text-anchor="start">1</text>
<text x="257.3" y="1080.1" font-size="27" text-anchor="start">2</text>
<text x="317.9" y="1080.1" font-size="27" text-anchor="start">3</text>
<text x="380.2" y="1080.1" font-size="27" text-anchor="start">4</text>
<text x="440.8" y="1080.1" font-size="27" text-anchor="start">5</text>
<text x="503.1" y="1080.1" font-size="27" text-anchor="start">6</text>
<text x="563.7" y="1080.1" font-size="27" text-anchor="start">7</text>
<text x="624.3" y="1080.1" font-size="27" text-anchor="start">8</text>
<text x="686.8" y="1080.1" font-size="27" text-anchor="start">9</text>
<text x="747.3" y="1080.1" font-size="27" text-anchor="start">10</text>
<text x="809.7" y="1080.1" font-size="27" text-anchor="start">11</text>
<text x="870.6" y="1080.1" font-size="27" text-anchor="start">12</text>
<text x="932.9" y="1080.1" font-size="27" text-anchor="start">13</text>
<text x="993.1" y="1080.1" font-size="27" text-anchor="start">14</text>
<text x="1053.7" y="1080.1" font-size="27" text-anchor="start">15</text>
<text x="1116.4" y="1080.1" font-size="27" text-anchor="start">16</text>
<text x="1176.6" y="1080.1" font-size="27" text-anchor="start">17</text>
<text x="1239.3" y="1080.1" font-size="27" text-anchor="start">18</text>
<text x="1299.8" y="1080.1" font-size="27" text-anchor="start">19</text>
<text x="1360.4" y="1080.1" font-size="27" text-anchor="start">20</text>
<text transform="translate(103.8,988.9) rotate(-90)" font-size="34.5" text-anchor="start">1</text>
<text transform="translate(103.8,884.7) rotate(-90)" font-size="34.5" text-anchor="start">2</text>
<text transform="translate(103.8,747.1) rotate(-90)" font-size="34.5" text-anchor="start">5</text>
<text transform="translate(103.8,642.9) rotate(-90)" font-size="34.5" text-anchor="start">10</text>
<text transform="translate(103.8,538.7) rotate(-90)" font-size="34.5" text-anchor="start">20</text>
<text transform="translate(103.8,401.1) rotate(-90)" font-size="34.5" text-anchor="start">50</text>
<text transform="translate(103.8,296.9) rotate(-90)" font-size="34.5" text-anchor="start">100</text>
<text transform="translate(103.8,192.7) rotate(-90)" font-size="34.5" text-anchor="start">200</text>
<text transform="translate(103.8,55.1) rotate(-90)" font-size="34.5" text-anchor="start">500</text>
<text transform="translate(1482.4,988.9) rotate(-90)" font-size="34.5" text-anchor="start">0</text>
<text transform="translate(1482.4,728.2) rotate(-90)" font-size="34.5" text-anchor="start">5</text>
<text transform="translate(1482.4,470.2) rotate(-90)" font-size="34.5" text-anchor="start">10</text>
<text transform="translate(1482.4,211.0) rotate(-90)" font-size="34.5" text-anchor="start">15</text>
<text transform="translate(23.9,740.9) rotate(-90)" font-size="34" text-anchor="start" textLength="441.81" lengthAdjust="spacingAndGlyphs">Number of species (log scale)</text>
<text transform="translate(1563.5,805.8) rotate(-90)" font-size="34" text-anchor="start" textLength="521.73" lengthAdjust="spacingAndGlyphs">Average partial IVI (all systems n=2</text>
<text x="674.04" y="1161.7" font-size="34" text-anchor="start" textLength="202.23" lengthAdjust="spacingAndGlyphs">AFS x country</text>
<text x="810.03" y="138.5" font-size="22.5" text-anchor="start" textLength="34.13" lengthAdjust="spacing">19*</text>
<text x="1249.9" y="327.9" font-size="22.5" text-anchor="start">1</text>
<text x="1128.9" y="477.7" font-size="22.5" text-anchor="start">4</text>
<text x="1250.4" y="563.3" font-size="22.5" text-anchor="start">2</text>
<text x="1006.57" y="578.1" font-size="22.5" text-anchor="start" textLength="33.28" lengthAdjust="spacing">14*</text>
<text x="1190.0" y="619.9" font-size="22.5" text-anchor="start">3</text>
<text x="1129.7" y="632.2" font-size="22.5" text-anchor="start">5</text>
<text x="1129.2" y="769.5" font-size="22.5" text-anchor="start">6</text>
<text x="1066.54" y="799.1" font-size="22.5" text-anchor="start" textLength="20.91" lengthAdjust="spacing">8*</text>
<text x="993.6" y="861.4" font-size="22.5" text-anchor="start" textLength="25.67" lengthAdjust="spacing">15</text>
<text x="1067.0" y="861.4" font-size="22.5" text-anchor="start">9</text>
<text x="1044.05" y="880.4" font-size="22.5" text-anchor="start" textLength="24.92" lengthAdjust="spacing">10</text>
<text x="1116.9" y="871.6" font-size="22.5" text-anchor="start">7</text>
<text x="920.64" y="906.6" font-size="22.5" text-anchor="start" textLength="25.05" lengthAdjust="spacing">16</text>
<text x="944.37" y="917.9" font-size="22.5" text-anchor="start" textLength="24.64" lengthAdjust="spacing">17</text>
<text x="1063.6" y="907.1" font-size="18.0" text-anchor="start" textLength="47.12" lengthAdjust="spacing">11-12</text>
<text x="1054.91" y="934.1" font-size="22.5" text-anchor="start" textLength="32.53" lengthAdjust="spacing">13*</text>
<text x="820.14" y="923.9" font-size="22.5" text-anchor="start" textLength="25.66" lengthAdjust="spacing">20</text>
<text x="747.34" y="937.0" font-size="18.0" text-anchor="start" textLength="48.66" lengthAdjust="spacing">25-29</text>
<text x="820.35" y="967.9" font-size="18.0" text-anchor="start" textLength="48.1" lengthAdjust="spacing">21-24</text>
<text x="943.22" y="975.9" font-size="22.5" text-anchor="start" textLength="25.37" lengthAdjust="spacing">18</text>
<g class="tbl">
<text x="1620.87" y="52.5" font-size="27" text-anchor="start" textLength="101.21" lengthAdjust="spacingAndGlyphs">Number</text>
<text x="1745.89" y="52.5" font-size="27" text-anchor="start" textLength="89.53" lengthAdjust="spacingAndGlyphs" font-style="italic">Species</text>
<text x="2121.49" y="33.9" font-size="27" text-anchor="start" textLength="213.5" lengthAdjust="spacingAndGlyphs">Range IVIp in AFS</text>
<text x="2121.58" y="71.0" font-size="27" text-anchor="start" textLength="114.37" lengthAdjust="spacingAndGlyphs">x country</text>
<text x="1706.0" y="107.5" font-size="27" text-anchor="start" textLength="16.77" lengthAdjust="spacingAndGlyphs">1</text>
<text x="1745.64" y="107.5" font-size="27" text-anchor="start" textLength="202.34" lengthAdjust="spacingAndGlyphs" font-style="italic">Gliricidia sepium</text>
<text x="2121.06" y="107.5" font-size="27" text-anchor="start" textLength="189.39" lengthAdjust="spacingAndGlyphs">0.35% - 51.06%</text>
<text x="1706.86" y="144.4" font-size="27" text-anchor="start" textLength="15.87" lengthAdjust="spacingAndGlyphs">2</text>
<text x="1745.48" y="144.4" font-size="27" text-anchor="start" textLength="197.87" lengthAdjust="spacingAndGlyphs" font-style="italic">Cedrela odorata</text>
<text x="2120.06" y="144.4" font-size="27" text-anchor="start" textLength="190.39" lengthAdjust="spacingAndGlyphs">1.80% - 45.71%</text>
<text x="1707.26" y="181.3" font-size="27" text-anchor="start" textLength="15.25" lengthAdjust="spacingAndGlyphs">3</text>
<text x="1745.62" y="181.3" font-size="27" text-anchor="start" textLength="231.33" lengthAdjust="spacingAndGlyphs" font-style="italic">Guazuma ulmifolia</text>
<text x="2121.06" y="181.3" font-size="27" text-anchor="start" textLength="189.39" lengthAdjust="spacingAndGlyphs">0.11% - 34.65%</text>
<text x="1707.71" y="218.1" font-size="27" text-anchor="start" textLength="14.35" lengthAdjust="spacingAndGlyphs">4</text>
<text x="1745.46" y="218.1" font-size="27" text-anchor="start" textLength="194.99" lengthAdjust="spacingAndGlyphs" font-style="italic">Cordia alliodora</text>
<text x="2120.06" y="218.1" font-size="27" text-anchor="start" textLength="190.39" lengthAdjust="spacingAndGlyphs">1.11% - 39.87%</text>
<text x="1707.2" y="255.0" font-size="27" text-anchor="start" textLength="15.25" lengthAdjust="spacingAndGlyphs">5</text>
<text x="1746.16" y="255.0" font-size="27" text-anchor="start" textLength="215.67" lengthAdjust="spacingAndGlyphs" font-style="italic">Bursera simaruba</text>
<text x="2121.06" y="255.0" font-size="27" text-anchor="start" textLength="189.39" lengthAdjust="spacingAndGlyphs">0.46% - 42.82%</text>
<text x="1706.87" y="291.9" font-size="27" text-anchor="start" textLength="15.67" lengthAdjust="spacingAndGlyphs">6</text>
<text x="1745.98" y="291.9" font-size="27" text-anchor="start" textLength="187.34" lengthAdjust="spacingAndGlyphs" font-style="italic">Tabebuia rosea</text>
<text x="2121.06" y="291.9" font-size="27" text-anchor="start" textLength="189.39" lengthAdjust="spacingAndGlyphs">0.43% - 21.52%</text>
<text x="1706.83" y="328.8" font-size="27" text-anchor="start" textLength="15.9" lengthAdjust="spacingAndGlyphs">7</text>
<text x="1746.15" y="328.8" font-size="27" text-anchor="start" textLength="325.73" lengthAdjust="spacingAndGlyphs" font-style="italic">Enterolobium cyclocarpum</text>
<text x="2121.06" y="328.8" font-size="27" text-anchor="start" textLength="189.39" lengthAdjust="spacingAndGlyphs">0.18% - 11.32%</text>
<text x="1691.46" y="365.7" font-size="27" text-anchor="start" textLength="29.23" lengthAdjust="spacingAndGlyphs">8*</text>
<text x="1745.51" y="365.7" font-size="27" text-anchor="start" textLength="129.1" lengthAdjust="spacingAndGlyphs" font-style="italic">Citrus spp.</text>
<text x="2121.06" y="365.7" font-size="27" text-anchor="start" textLength="189.39" lengthAdjust="spacingAndGlyphs">0.66% - 11.08%</text>
<text x="1706.98" y="402.5" font-size="27" text-anchor="start" textLength="15.65" lengthAdjust="spacingAndGlyphs">9</text>
<text x="1745.48" y="402.5" font-size="27" text-anchor="start" textLength="176.16" lengthAdjust="spacingAndGlyphs" font-style="italic">Citrus maxima</text>
<text x="1928.4" y="392.1" font-size="17.5" font-style="italic">1</text>
<text x="2121.06" y="402.5" font-size="27" text-anchor="start" textLength="174.18" lengthAdjust="spacingAndGlyphs">0.22% - 7.12%</text>
<text x="1690.48" y="439.4" font-size="27" text-anchor="start" textLength="32.35" lengthAdjust="spacingAndGlyphs">10</text>
<text x="1746.22" y="439.4" font-size="27" text-anchor="start" textLength="277.13" lengthAdjust="spacingAndGlyphs" font-style="italic">Swietenia macrophylla</text>
<text x="2121.06" y="439.4" font-size="27" text-anchor="start" textLength="189.39" lengthAdjust="spacingAndGlyphs">0.39% - 14.68%</text>
<text x="1690.46" y="476.3" font-size="27" text-anchor="start" textLength="32.67" lengthAdjust="spacingAndGlyphs">11</text>
<text x="1746.13" y="476.3" font-size="27" text-anchor="start" textLength="208.65" lengthAdjust="spacingAndGlyphs" font-style="italic">Mangifera indica</text>
<text x="2121.06" y="476.3" font-size="27" text-anchor="start" textLength="174.18" lengthAdjust="spacingAndGlyphs">0.12% - 7.90%</text>
<text x="1690.46" y="513.2" font-size="27" text-anchor="start" textLength="32.72" lengthAdjust="spacingAndGlyphs">12</text>
<text x="1746.16" y="513.2" font-size="27" text-anchor="start" textLength="200.68" lengthAdjust="spacingAndGlyphs" font-style="italic">Psidium guajava</text>
<text x="2121.06" y="513.2" font-size="27" text-anchor="start" textLength="189.39" lengthAdjust="spacingAndGlyphs">0.33% - 10.08%</text>
<text x="1674.67" y="550.1" font-size="27" text-anchor="start" textLength="46.01" lengthAdjust="spacingAndGlyphs">13*</text>
<text x="1746.2" y="550.1" font-size="27" text-anchor="start" textLength="118.59" lengthAdjust="spacingAndGlyphs" font-style="italic">Ficus spp.</text>
<text x="2121.06" y="550.1" font-size="27" text-anchor="start" textLength="174.18" lengthAdjust="spacingAndGlyphs">0.24% - 9.64%</text>
<text x="1674.67" y="586.9" font-size="27" text-anchor="start" textLength="46.01" lengthAdjust="spacingAndGlyphs">14*</text>
<text x="1745.91" y="586.9" font-size="27" text-anchor="start" textLength="112.95" lengthAdjust="spacingAndGlyphs" font-style="italic">Inga spp.</text>
<text x="2121.06" y="586.9" font-size="27" text-anchor="start" textLength="189.39" lengthAdjust="spacingAndGlyphs">0.59% - 57.81%</text>
<text x="1690.48" y="623.8" font-size="27" text-anchor="start" textLength="32.45" lengthAdjust="spacingAndGlyphs">15</text>
<text x="1746.17" y="623.8" font-size="27" text-anchor="start" textLength="218.55" lengthAdjust="spacingAndGlyphs" font-style="italic">Persea americana</text>
<text x="2121.06" y="623.8" font-size="27" text-anchor="start" textLength="174.18" lengthAdjust="spacingAndGlyphs">0.24% - 9.50%</text>
<text x="1690.47" y="660.7" font-size="27" text-anchor="start" textLength="32.51" lengthAdjust="spacingAndGlyphs">16</text>
<text x="1746.16" y="660.7" font-size="27" text-anchor="start" textLength="258.58" lengthAdjust="spacingAndGlyphs" font-style="italic">Byrsonima crassifolia</text>
<text x="2121.06" y="660.7" font-size="27" text-anchor="start" textLength="189.39" lengthAdjust="spacingAndGlyphs">0.25% - 12.93%</text>
<text x="1690.46" y="697.6" font-size="27" text-anchor="start" textLength="32.72" lengthAdjust="spacingAndGlyphs">17</text>
<text x="1746.23" y="697.6" font-size="27" text-anchor="start" textLength="217.71" lengthAdjust="spacingAndGlyphs" font-style="italic">Spondias mombin</text>
<text x="2121.06" y="697.6" font-size="27" text-anchor="start" textLength="174.18" lengthAdjust="spacingAndGlyphs">0.52% - 6.65%</text>
<text x="1690.47" y="734.5" font-size="27" text-anchor="start" textLength="32.49" lengthAdjust="spacingAndGlyphs">18</text>
<text x="1746.98" y="734.5" font-size="27" text-anchor="start" textLength="211.38" lengthAdjust="spacingAndGlyphs" font-style="italic">Annona muricata</text>
<text x="2121.06" y="734.5" font-size="27" text-anchor="start" textLength="174.18" lengthAdjust="spacingAndGlyphs">0.11% - 2.03%</text>
<text x="1674.67" y="771.3" font-size="27" text-anchor="start" textLength="46.01" lengthAdjust="spacingAndGlyphs">19*</text>
<text x="1746.15" y="771.3" font-size="27" text-anchor="start" textLength="127.02" lengthAdjust="spacingAndGlyphs" font-style="italic">Musa spp.</text>
<text x="2121.06" y="771.3" font-size="27" text-anchor="start" textLength="189.39" lengthAdjust="spacingAndGlyphs">0.35% - 62.48%</text>
<text x="1692.11" y="808.2" font-size="27" text-anchor="start" textLength="30.66" lengthAdjust="spacingAndGlyphs">20</text>
<text x="1746.14" y="808.2" font-size="27" text-anchor="start" textLength="256.12" lengthAdjust="spacingAndGlyphs" font-style="italic">Erythrina berteroana</text>
<text x="2121.06" y="808.2" font-size="27" text-anchor="start" textLength="189.39" lengthAdjust="spacingAndGlyphs">0.12% - 12.39%</text>
<text x="1692.1" y="845.1" font-size="27" text-anchor="start" textLength="30.96" lengthAdjust="spacingAndGlyphs">21</text>
<text x="1746.24" y="845.1" font-size="27" text-anchor="start" textLength="238.18" lengthAdjust="spacingAndGlyphs" font-style="italic">Sapindus saponaria</text>
<text x="2121.06" y="845.1" font-size="27" text-anchor="start" textLength="174.18" lengthAdjust="spacingAndGlyphs">0.16% - 7.96%</text>
<text x="1692.1" y="882.0" font-size="27" text-anchor="start" textLength="31.0" lengthAdjust="spacingAndGlyphs">22</text>
<text x="1745.54" y="882.0" font-size="27" text-anchor="start" textLength="174.9" lengthAdjust="spacingAndGlyphs" font-style="italic">Cassia grandis</text>
<text x="2121.06" y="882.0" font-size="27" text-anchor="start" textLength="174.18" lengthAdjust="spacingAndGlyphs">0.11% - 4.25%</text>
<text x="1692.11" y="918.9" font-size="27" text-anchor="start" textLength="30.81" lengthAdjust="spacingAndGlyphs">23</text>
<text x="1745.48" y="918.9" font-size="27" text-anchor="start" textLength="203.15" lengthAdjust="spacingAndGlyphs" font-style="italic">Ceiba pentandra</text>
<text x="2121.06" y="918.9" font-size="27" text-anchor="start" textLength="174.18" lengthAdjust="spacingAndGlyphs">0.11% - 2.99%</text>
<text x="1692.13" y="955.7" font-size="27" text-anchor="start" textLength="30.37" lengthAdjust="spacingAndGlyphs">24</text>
<text x="1745.51" y="955.7" font-size="27" text-anchor="start" textLength="174.52" lengthAdjust="spacingAndGlyphs" font-style="italic">Carica papaya</text>
<text x="2121.06" y="955.7" font-size="27" text-anchor="start" textLength="174.18" lengthAdjust="spacingAndGlyphs">0.05% - 1.70%</text>
<text x="1692.11" y="992.6" font-size="27" text-anchor="start" textLength="30.75" lengthAdjust="spacingAndGlyphs">25</text>
<text x="1746.14" y="992.6" font-size="27" text-anchor="start" textLength="259.65" lengthAdjust="spacingAndGlyphs" font-style="italic">Brosimum alicastrum</text>
<text x="2121.06" y="992.6" font-size="27" text-anchor="start" textLength="174.18" lengthAdjust="spacingAndGlyphs">0.19% - 6.01%</text>
<text x="1692.11" y="1029.5" font-size="27" text-anchor="start" textLength="30.81" lengthAdjust="spacingAndGlyphs">26</text>
<text x="1746.15" y="1029.5" font-size="27" text-anchor="start" textLength="194.3" lengthAdjust="spacingAndGlyphs" font-style="italic">Pouteria sapota</text>
<text x="2121.06" y="1029.5" font-size="27" text-anchor="start" textLength="174.18" lengthAdjust="spacingAndGlyphs">0.15% - 6.68%</text>
<text x="1692.1" y="1066.4" font-size="27" text-anchor="start" textLength="31.0" lengthAdjust="spacingAndGlyphs">27</text>
<text x="1746.15" y="1066.4" font-size="27" text-anchor="start" textLength="327.91" lengthAdjust="spacingAndGlyphs" font-style="italic">Lonchocarpus minimiflorus</text>
<text x="2121.06" y="1066.4" font-size="27" text-anchor="start" textLength="174.18" lengthAdjust="spacingAndGlyphs">0.23% - 2.17%</text>
<text x="1692.11" y="1103.3" font-size="27" text-anchor="start" textLength="30.8" lengthAdjust="spacingAndGlyphs">28</text>
<text x="1745.95" y="1103.3" font-size="27" text-anchor="start" textLength="195.91" lengthAdjust="spacingAndGlyphs" font-style="italic">Tectona grandis</text>
<text x="2121.06" y="1103.3" font-size="27" text-anchor="start" textLength="174.18" lengthAdjust="spacingAndGlyphs">0.07% - 5.09%</text>
<text x="1692.1" y="1140.1" font-size="27" text-anchor="start" textLength="30.91" lengthAdjust="spacingAndGlyphs">29</text>
<text x="1745.47" y="1140.1" font-size="27" text-anchor="start" textLength="145.98" lengthAdjust="spacingAndGlyphs" font-style="italic">Citrus limon</text>
<text x="1897.9" y="1129.7" font-size="17.5" font-style="italic">1</text>
<text x="2121.06" y="1140.1" font-size="27" text-anchor="start" textLength="174.18" lengthAdjust="spacingAndGlyphs">0.06% - 1.72%</text>
<text x="1646.61" y="1176.9" font-size="27" text-anchor="start" textLength="438.89" lengthAdjust="spacingAndGlyphs">1) Also included in the Citrus genus.</text>
<text x="1648.24" y="1213.8" font-size="27" text-anchor="start" textLength="622.34" lengthAdjust="spacingAndGlyphs">*) Identify the entries that represent whole Genus.</text>
</g>
</svg>
</body></html>
